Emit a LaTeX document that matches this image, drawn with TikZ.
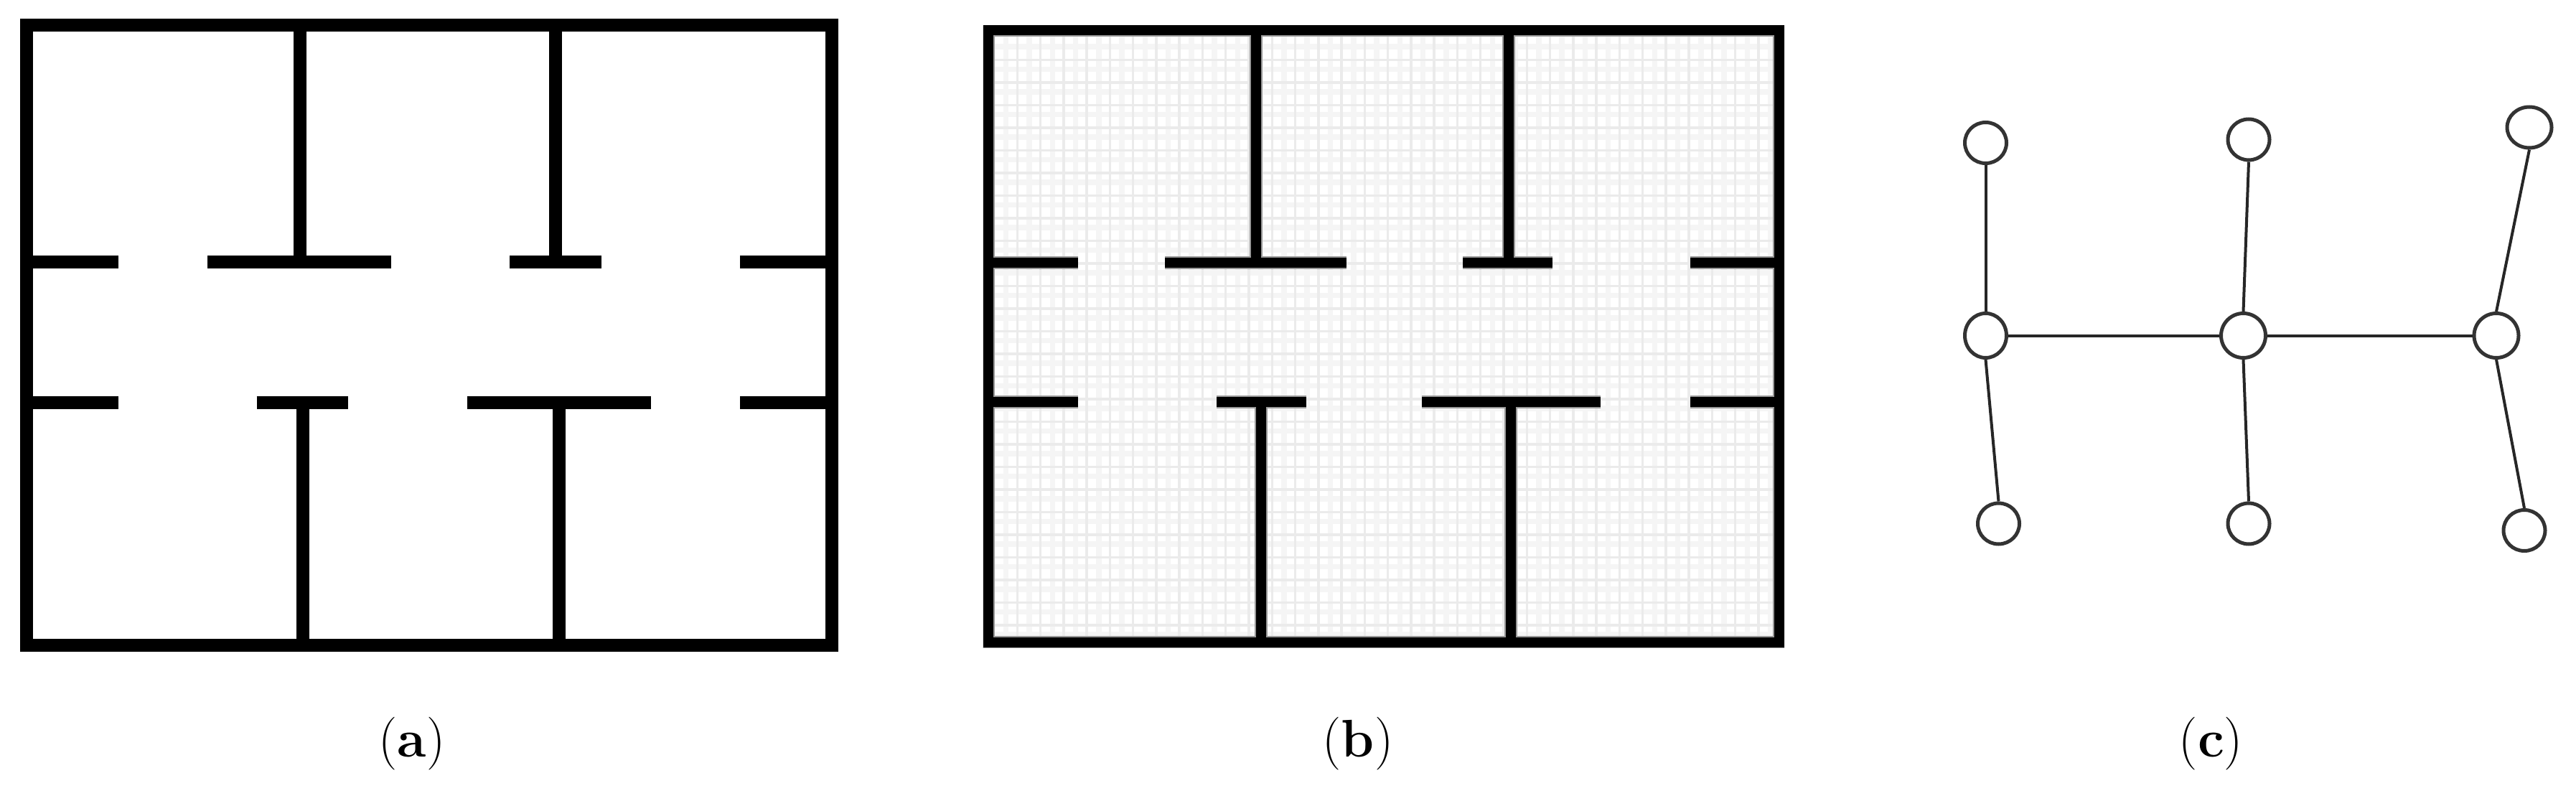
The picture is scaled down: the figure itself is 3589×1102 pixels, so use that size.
\documentclass[tikz,border=0pt]{standalone}
\usetikzlibrary{shapes.geometric}
\tikzset{
  wall/.style={draw=black,line width=1.8mm,line cap=butt,line join=miter},
  wallb/.style={draw=black,line width=1.4mm,line cap=butt,line join=miter},
  rim/.style={draw=black!40,line width=1.8mm,line cap=butt,line join=miter},
  gridmain/.style={draw=black!8,line width=.35mm},
  gridfaint/.style={draw=black!4,line width=.75mm},
  vertex/.style={draw=black!80,fill=white,ellipse,line width=.5mm,inner sep=0pt,minimum width=5.8mm,minimum height=5.7mm},
  hub/.style={vertex,minimum width=6.2mm,minimum height=6.2mm},
  link/.style={draw=black!85,line width=.4mm},
  caption/.style={font=\fontsize{21}{25}\selectfont,inner sep=0pt}
}
\begin{document}
\begin{tikzpicture}[x=.1mm,y=-.1mm]
\useasboundingbox (0,0) rectangle (3589,1102);
% floor plan
\draw[wall] (37,35.5) rectangle (1159,899);
\draw[wall] (417.5,35.5)--(417.5,365) (774,35.5)--(774,365) (422,561)--(422,899) (779,561)--(779,899);
\draw[wall] (37,365)--(164.5,365) (289,365)--(545,365) (710,365)--(838,365) (1031,365)--(1159,365);
\draw[wall] (37,561)--(164.5,561) (357.5,561)--(485,561) (650.5,561)--(907,561) (1031,561)--(1159,561);
% grid map
\begin{scope}
\clip (1369.5,35.5) rectangle (2486,902);
\foreach \gx in {1401.7,1433.97,...,2470}{\draw[gridfaint] (\gx,36)--(\gx,902);}
\foreach \gy in {65,96.5,...,890}{\draw[gridfaint] (1370,\gy)--(2486,\gy);}
\foreach \gx in {1417.3,1449.57,...,2470}{\draw[gridmain] (\gx,36)--(\gx,902);}
\foreach \gy in {83.3,114.8,...,890}{\draw[gridmain] (1370,\gy)--(2486,\gy);}
\foreach \w in {rim,wallb}{
  \draw[\w] (1376.5,42.5) rectangle (2479,895);
  \draw[\w] (1750,42.5)--(1750,366) (2101.5,42.5)--(2101.5,366) (1757,560)--(1757,895) (2105,560)--(2105,895);
  \draw[\w] (1376.5,366)--(1502,366) (1623,366)--(1876,366) (2038,366)--(2163,366) (2355,366)--(2479,366);
  \draw[\w] (1376.5,560)--(1502,560) (1695,560)--(1820,560) (1981,560)--(2230,560) (2355,560)--(2479,560);
}
\end{scope}
% topology graph
\node[vertex] (ta) at (2766.5,199) {};
\node[vertex] (tb) at (3133,194.5) {};
\node[vertex,minimum width=6.2mm] (tc) at (3524,177.5) {};
\node[hub,minimum width=5.8mm] (ma) at (2766.5,467.5) {};
\node[hub] (mb) at (3125.5,467.5) {};
\node[hub] (mc) at (3478,467.5) {};
\node[vertex] (ba) at (2784.5,729.5) {};
\node[vertex] (bb) at (3133,729.5) {};
\node[vertex] (bc) at (3517,739) {};
\foreach \p in {a,b,c}{
  \draw[link] (t\p.south)--(m\p.north);
  \draw[link] (m\p.south)--(b\p.north);
}
\draw[link] (ma)--(mb);
\draw[link] (mb)--(mc);
% captions
\node[caption] (capa) at (574,1036) {(\textbf{a})};
\node[caption] (capb) at (1892,1036) {(\textbf{b})};
\node[caption] (capc) at (3080.5,1036) {(\textbf{c})};
\end{tikzpicture}
\end{document}
